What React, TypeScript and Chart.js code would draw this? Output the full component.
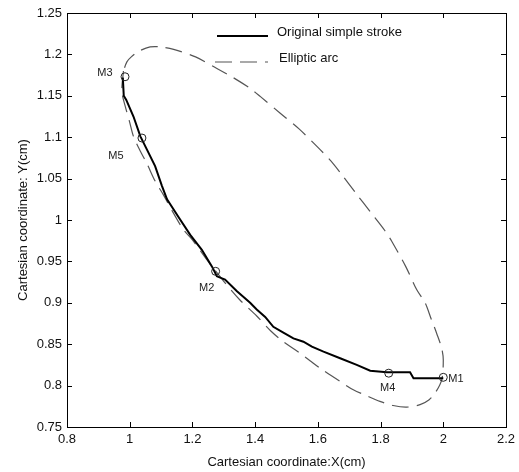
import React, { useEffect, useRef } from 'react';
import { Chart, registerables } from 'chart.js';

Chart.register(...registerables);

const xTicks = [0.8, 1, 1.2, 1.4, 1.6, 1.8, 2, 2.2];
const yTicks = [0.75, 0.8, 0.85, 0.9, 0.95, 1, 1.05, 1.1, 1.15, 1.2, 1.25];

const strokeX = [0.978, 0.981, 0.989, 1.012, 1.034, 1.055, 1.081, 1.103, 1.119, 1.155, 1.193, 1.23, 1.262, 1.278, 1.304, 1.342, 1.384, 1.405, 1.432, 1.458, 1.49, 1.522, 1.554, 1.581, 1.618, 1.671, 1.724, 1.767, 1.82, 1.894, 1.905, 2.0];
const strokeY = [1.172, 1.15, 1.145, 1.125, 1.101, 1.085, 1.065, 1.041, 1.025, 1.004, 0.982, 0.964, 0.944, 0.932, 0.928, 0.914, 0.9, 0.892, 0.883, 0.871, 0.864, 0.857, 0.853, 0.847, 0.841, 0.833, 0.825, 0.818, 0.816, 0.816, 0.809, 0.809];

const ellipseX = [0.98, 0.975, 0.986, 1.0, 1.012, 1.034, 1.055, 1.081, 1.108, 1.14, 1.172, 1.2, 1.25, 1.3, 1.35, 1.405, 1.45, 1.49, 1.54, 1.575, 1.607, 1.671, 1.713, 1.76, 1.798, 1.84, 1.883, 1.926, 1.955, 1.974, 1.995, 2.0, 1.995, 1.979, 1.96, 1.942, 1.915, 1.88, 1.836, 1.814, 1.767, 1.72, 1.676, 1.64, 1.597, 1.54, 1.48, 1.417, 1.384, 1.33, 1.278, 1.21, 1.14, 1.1, 1.065, 1.03, 1.005, 0.991, 0.98];
const ellipseY = [1.18, 1.155, 1.137, 1.118, 1.101, 1.083, 1.068, 1.047, 1.03, 1.008, 0.988, 0.976, 0.95, 0.926, 0.904, 0.884, 0.866, 0.853, 0.84, 0.83, 0.821, 0.805, 0.795, 0.787, 0.781, 0.776, 0.774, 0.777, 0.783, 0.791, 0.807, 0.831, 0.845, 0.863, 0.882, 0.9, 0.916, 0.944, 0.974, 0.987, 1.01, 1.033, 1.055, 1.072, 1.089, 1.11, 1.129, 1.149, 1.159, 1.172, 1.183, 1.197, 1.206, 1.209, 1.209, 1.204, 1.197, 1.191, 1.18];

const markNames = ['M1', 'M2', 'M3', 'M4', 'M5'];
const markX = [2.0, 1.274, 0.985, 1.826, 1.039];
const markY = [0.81, 0.938, 1.173, 0.815, 1.099];

const legendLabels = ['Original simple stroke', 'Elliptic arc'];

const FONT = '"Liberation Sans", Arial, sans-serif';

const framePlugin = {
  id: 'frame',
  afterDraw(chart: any) {
    const { ctx, chartArea: a, scales } = chart;
    const xs = scales.x;
    const ys = scales.y;
    ctx.save();
    ctx.strokeStyle = '#000';
    ctx.lineWidth = 1;
    ctx.strokeRect(Math.round(a.left) + 0.5, Math.round(a.top) + 0.5, Math.round(a.right - a.left), Math.round(a.bottom - a.top));
    const tl = 5;
    ctx.beginPath();
    xTicks.forEach((v) => {
      const px = Math.round(xs.getPixelForValue(v)) + 0.5;
      ctx.moveTo(px, a.bottom);
      ctx.lineTo(px, a.bottom - tl);
      ctx.moveTo(px, a.top);
      ctx.lineTo(px, a.top + tl);
    });
    yTicks.forEach((v) => {
      const py = Math.round(ys.getPixelForValue(v)) + 0.5;
      ctx.moveTo(a.left, py);
      ctx.lineTo(a.left + tl, py);
      ctx.moveTo(a.right, py);
      ctx.lineTo(a.right - tl, py);
    });
    ctx.stroke();

    // marker labels
    const offs = [[5, 2, 'left'], [-9, 17, 'center'], [-20, -4, 'center'], [-1, 15, 'center'], [-26, 18, 'center']];
    ctx.fillStyle = '#222';
    ctx.font = '11px ' + FONT;
    ctx.textBaseline = 'middle';
    markNames.forEach((n, i) => {
      const px = xs.getPixelForValue(markX[i]);
      const py = ys.getPixelForValue(markY[i]);
      const o = offs[i] as any;
      ctx.textAlign = o[2];
      ctx.fillText(n, px + o[0], py + o[1]);
    });

    // legend
    ctx.font = '13px ' + FONT;
    ctx.textAlign = 'left';
    ctx.fillStyle = '#111';
    ctx.beginPath();
    ctx.strokeStyle = '#000';
    ctx.lineWidth = 2;
    ctx.moveTo(217, 36);
    ctx.lineTo(268, 36);
    ctx.stroke();
    ctx.fillText(legendLabels[0], 277, 32);
    ctx.beginPath();
    ctx.strokeStyle = '#555';
    ctx.lineWidth = 1.2;
    ctx.setLineDash([17, 8]);
    ctx.moveTo(215, 62);
    ctx.lineTo(268, 62);
    ctx.stroke();
    ctx.setLineDash([]);
    ctx.fillText(legendLabels[1], 279, 58);
    ctx.restore();
  },
};

export default function App() {
  const ref = useRef<HTMLCanvasElement>(null);
  useEffect(() => {
    if (!ref.current) return;
    const toPts = (xs: number[], ys: number[]) => xs.map((x, i) => ({ x, y: ys[i] }));
    const chart = new Chart(ref.current, {
      type: 'scatter',
      data: {
        datasets: [
          {
            label: 'Marks',
            data: toPts(markX, markY),
            showLine: false,
            pointRadius: 4,
            pointStyle: 'circle',
            backgroundColor: 'rgba(0,0,0,0)',
            borderColor: '#222',
            borderWidth: 1,
          },
          {
            label: legendLabels[0],
            data: toPts(strokeX, strokeY),
            showLine: true,
            borderColor: '#000',
            borderWidth: 2,
            pointRadius: 0,
            tension: 0,
          },
          {
            label: legendLabels[1],
            data: toPts(ellipseX, ellipseY),
            showLine: true,
            borderColor: '#555',
            borderWidth: 1.2,
            borderDash: [17, 8],
            pointRadius: 0,
            tension: 0.3,
          },
        ],
      },
      options: {
        responsive: false,
        animation: false,
        layout: { padding: { top: 13, right: 13, left: 0, bottom: 0 } },
        plugins: { legend: { display: false }, tooltip: { enabled: false } },
        scales: {
          x: {
            type: 'linear',
            min: 0.8,
            max: 2.2,
            grid: { display: false, drawTicks: false },
            border: { display: false },
            afterBuildTicks: (s: any) => { s.ticks = xTicks.map((v) => ({ value: v })); },
            afterFit: (s: any) => { s.height = 45; s.paddingLeft = 0; s.paddingRight = 0; },
            ticks: {
              color: '#111',
              padding: 5,
              maxRotation: 0,
              font: { family: FONT, size: 13 },
              callback: (v: any) => String(Math.round(Number(v) * 100) / 100),
            },
            title: {
              display: true,
              text: 'Cartesian coordinate:X(cm)',
              color: '#111',
              font: { family: FONT, size: 13 },
              padding: { top: 0, bottom: 2 },
            },
          },
          y: {
            type: 'linear',
            min: 0.75,
            max: 1.25,
            grid: { display: false, drawTicks: false },
            border: { display: false },
            afterBuildTicks: (s: any) => { s.ticks = yTicks.map((v) => ({ value: v })); },
            afterFit: (s: any) => { s.width = 67; s.paddingTop = 0; s.paddingBottom = 0; },
            ticks: {
              color: '#111',
              padding: 5,
              font: { family: FONT, size: 13 },
              callback: (v: any) => String(Math.round(Number(v) * 100) / 100),
            },
            title: {
              display: true,
              text: 'Cartesian coordinate: Y(cm)',
              color: '#111',
              font: { family: FONT, size: 13 },
              padding: { top: 16, bottom: 0 },
            },
          },
        },
      },
      plugins: [framePlugin],
    });
    return () => chart.destroy();
  }, []);
  return (
    <div style={{ position: 'fixed', left: 0, top: 0, width: 519, height: 472, background: '#fff' }}>
      <canvas ref={ref} width={519} height={472} style={{ display: 'block' }} />
    </div>
  );
}
